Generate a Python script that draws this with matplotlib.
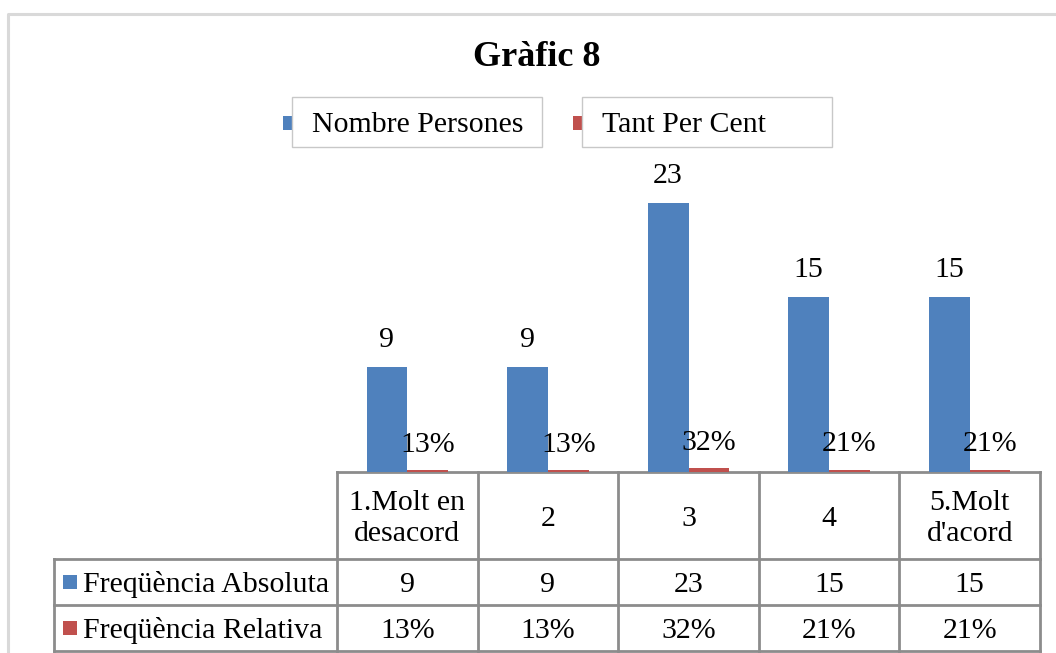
import matplotlib
matplotlib.use("Agg")
import matplotlib.pyplot as plt
from matplotlib.patches import Rectangle
import numpy as np

# ---- data ----
categories = ["1.Molt en\ndesacord", "2", "3", "4", "5.Molt\nd'acord"]
counts = [9, 9, 23, 15, 15]
percents = [0.13, 0.13, 0.32, 0.21, 0.21]
series_names = ["Nombre Persones", "Tant Per Cent"]
row_labels = ["Freqüència Absoluta", "Freqüència Relativa"]
title = "Gràfic 8"

BLUE = "#4F81BD"
RED = "#C0504D"
GRID = "#8C8C8C"
FRAME = "#D9D9D9"

plt.rcParams['font.family'] = ['Liberation Serif', 'DejaVu Serif']

W, H = 1056, 653
fig = plt.figure(figsize=(W / 100, H / 100), dpi=100)

# layout (pixels)
L, R = 337, 1040
BASE = 472
PX_PER_UNIT = 11.7
YMAX = 26
top_px = BASE - YMAX * PX_PER_UNIT

ax = fig.add_axes([L / W, (H - BASE) / H, (R - L) / W, (BASE - top_px) / H])
ax.set_xlim(-0.5, len(categories) - 0.5)
ax.set_ylim(0, YMAX)
ax.axis("off")

x = np.arange(len(categories))
bw = 0.29
ax.bar(x - bw, counts, width=bw, align="edge", color=BLUE, zorder=2)
ax.bar(x, percents, width=bw, align="edge", color=RED, zorder=2)

FS = 21.5
for xi, c in zip(x, counts):
    ax.annotate(f"{c}", (xi - bw / 2, c), xytext=(0, 14), textcoords="offset points",
                ha="center", va="baseline", fontsize=FS)
for xi, p in zip(x, percents):
    ax.annotate(f"{round(p * 100)}%", (xi + bw / 2, p), xytext=(0, 13), textcoords="offset points",
                ha="center", va="baseline", fontsize=FS)

# overlay axes in pixel coords for frame, title, legend, table
ov = fig.add_axes([0, 0, 1, 1], zorder=-1)
ov.set_xlim(0, W)
ov.set_ylim(H, 0)
ov.axis("off")

# outer frame
ov.plot([8, 8, W], [H, 14, 14], color=FRAME, lw=2.2, solid_capstyle="butt")

# title
ov.text(537, 58, title, ha="center", va="center", fontsize=26, fontweight="bold")

# legend
leg_boxes = [(292, 542), (582, 832)]
for (bx0, bx1), name, col in zip(leg_boxes, series_names, [BLUE, RED]):
    ov.add_patch(Rectangle((bx0 - 9, 116), 9, 14, color=col, lw=0))
    ov.add_patch(Rectangle((bx0, 97), bx1 - bx0, 50, facecolor="white", edgecolor="#C8C8C8", lw=1))
    ov.text(bx0 + 20, 125, name, ha="left", va="center", fontsize=FS)

# table
ncol = len(categories)
colw = (R - L) / ncol
edges = [L + i * colw for i in range(ncol + 1)]
row_y = [BASE, 559, 605, 651]
TL = 54
lw = 2
ov.plot([L, R], [row_y[0], row_y[0]], color=GRID, lw=lw)
for yy in row_y[1:]:
    ov.plot([TL, R], [yy, yy], color=GRID, lw=lw)
for e in edges:
    ov.plot([e, e], [row_y[0], row_y[-1]], color=GRID, lw=lw)
ov.plot([TL, TL], [row_y[1], row_y[-1]], color=GRID, lw=lw)

# header cells
for i, cat in enumerate(categories):
    ov.text((edges[i] + edges[i + 1]) / 2, (row_y[0] + row_y[1]) / 2 + 3, cat,
            ha="center", va="center", fontsize=FS, linespacing=1.22)
# data rows
rows_vals = [[f"{c}" for c in counts], [f"{round(p * 100)}%" for p in percents]]
for r, (lab, col, vals) in enumerate(zip(row_labels, [BLUE, RED], rows_vals)):
    yc = (row_y[r + 1] + row_y[r + 2]) / 2
    ov.add_patch(Rectangle((63, yc - 7), 14, 14, color=col, lw=0))
    ov.text(83, yc + 2, lab, ha="left", va="center", fontsize=FS)
    for i, v in enumerate(vals):
        ov.text((edges[i] + edges[i + 1]) / 2, yc + 3, v, ha="center", va="center", fontsize=FS)

fig.savefig("out.png", dpi=100, facecolor="white")
